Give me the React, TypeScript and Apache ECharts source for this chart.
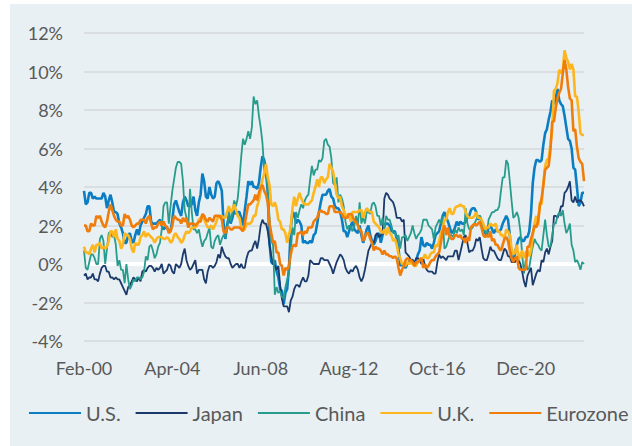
import React, { useEffect, useRef } from "react";
import * as echarts from "echarts";

// Monthly year-over-year CPI inflation (%), Feb-2000 .. Sep-2023
const usValues: number[] = [
  3.8, 3.1, 3.2, 3.7, 3.7, 3.4, 3.5, 3.4, 3.4, 3.4, 3.4,
  3.7, 3.5, 2.9, 3.3, 3.6, 3.2, 2.7, 2.7, 2.6, 2.1, 1.9, 1.6,
  1.1, 1.1, 1.5, 1.6, 1.2, 1.1, 1.5, 1.8, 1.5, 2.0, 2.2, 2.4,
  2.6, 3.0, 3.0, 2.2, 2.1, 2.1, 2.1, 2.2, 2.3, 2.0, 1.8, 1.9,
  1.9, 1.7, 1.7, 2.3, 3.1, 3.3, 3.0, 2.7, 2.5, 3.2, 3.5, 3.3,
  3.0, 3.0, 3.1, 3.5, 2.8, 2.5, 3.2, 3.6, 4.7, 4.3, 3.5, 3.4,
  4.0, 3.6, 3.4, 3.5, 4.2, 4.3, 4.1, 3.8, 2.1, 1.3, 2.0, 2.5,
  2.1, 2.4, 2.8, 2.6, 2.7, 2.7, 2.4, 2.0, 2.8, 3.5, 4.3, 4.1,
  4.3, 4.0, 4.0, 3.9, 4.2, 5.0, 5.6, 5.4, 4.9, 3.7, 1.1, 0.1,
  0.0, 0.2, -0.4, -0.7, -1.3, -1.4, -2.1, -1.5, -1.3, -0.2, 1.8, 2.7,
  2.6, 2.1, 2.3, 2.2, 2.0, 1.1, 1.2, 1.1, 1.1, 1.2, 1.1, 1.5,
  1.6, 2.1, 2.7, 3.2, 3.6, 3.6, 3.6, 3.8, 3.9, 3.5, 3.4, 3.0,
  2.9, 2.9, 2.7, 2.3, 1.7, 1.7, 1.4, 1.7, 2.0, 2.2, 1.8, 1.7,
  1.6, 2.0, 1.5, 1.1, 1.4, 1.8, 2.0, 1.5, 1.2, 1.0, 1.2, 1.5,
  1.6, 1.1, 1.5, 2.0, 2.1, 2.1, 2.0, 1.7, 1.7, 1.7, 1.3, 0.8,
  -0.1, 0.0, -0.1, -0.2, 0.0, 0.1, 0.2, 0.2, 0.0, 0.2, 0.5, 0.7,
  1.4, 1.0, 0.9, 1.1, 1.0, 1.0, 0.8, 1.1, 1.5, 1.6, 1.7, 2.1,
  2.5, 2.7, 2.4, 2.2, 1.9, 1.6, 1.7, 1.9, 2.2, 2.0, 2.2, 2.1,
  2.1, 2.2, 2.4, 2.5, 2.8, 2.9, 2.9, 2.7, 2.3, 2.5, 2.2, 1.9,
  1.6, 1.5, 1.9, 2.0, 1.8, 1.6, 1.8, 1.7, 1.7, 1.8, 2.1, 2.3,
  2.5, 2.3, 1.5, 0.3, 0.1, 0.6, 1.0, 1.3, 1.4, 1.2, 1.2, 1.4,
  1.4, 1.7, 2.6, 4.2, 5.0, 5.4, 5.4, 5.3, 5.4, 6.2, 6.8, 7.0,
  7.5, 7.9, 8.5, 8.3, 8.6, 9.1, 8.5, 8.3, 8.2, 7.7, 7.1, 6.5,
  6.4, 6.0, 5.0, 4.9, 4.0, 3.0, 3.2, 3.7, 3.7,
];

const japanValues: number[] = [
  -0.6, -0.5, -0.8, -0.7, -0.7, -0.5, -0.8, -0.8, -0.9, -0.5, -0.2,
  -0.1, -0.1, -0.4, -0.4, -0.7, -0.7, -0.8, -0.7, -0.8, -0.8, -1.0, -1.2,
  -1.4, -1.6, -1.2, -1.1, -0.9, -0.7, -0.8, -0.9, -0.7, -0.9, -0.4, -0.3,
  -0.4, -0.2, -0.1, -0.1, -0.2, -0.4, -0.2, -0.3, -0.2, 0.0, -0.5, -0.4,
  -0.3, 0.0, -0.1, -0.4, -0.5, 0.0, -0.1, -0.2, 0.0, 0.5, 0.8, 0.2,
  -0.1, -0.3, -0.2, 0.0, 0.2, -0.5, -0.3, -0.3, -0.3, -0.8, -1.0, -0.4,
  -0.1, -0.1, -0.2, -0.1, 0.1, 0.5, 0.3, 0.9, 0.6, 0.4, 0.3, 0.3,
  0.0, -0.2, -0.1, 0.0, 0.0, -0.2, 0.0, -0.2, -0.2, 0.3, 0.6, 0.7,
  0.7, 1.0, 1.2, 0.8, 1.3, 2.0, 2.3, 2.1, 2.1, 1.7, 1.0, 0.4,
  0.0, -0.1, -0.3, -0.1, -1.1, -1.8, -2.2, -2.2, -2.2, -2.5, -1.9, -1.7,
  -1.3, -1.1, -1.1, -1.2, -0.9, -0.7, -0.9, -0.9, -0.6, 0.2, 0.1, 0.0,
  0.0, 0.0, 0.0, 0.3, 0.3, 0.2, 0.2, 0.2, 0.0, -0.2, -0.5, -0.2,
  0.1, 0.3, 0.5, 0.4, 0.2, -0.2, -0.4, -0.5, -0.3, -0.4, -0.2, -0.1,
  -0.3, -0.7, -0.9, -0.7, -0.3, 0.2, 0.7, 0.9, 1.1, 1.1, 1.5, 1.6,
  1.4, 1.5, 1.6, 3.4, 3.7, 3.6, 3.4, 3.3, 3.2, 2.9, 2.4, 2.4,
  2.4, 2.2, 2.3, 0.6, 0.5, 0.4, 0.2, 0.2, 0.0, 0.3, 0.3, 0.2,
  0.0, 0.3, -0.1, -0.3, -0.4, -0.4, -0.4, -0.5, -0.5, 0.1, 0.5, 0.3,
  0.4, 0.3, 0.2, 0.4, 0.4, 0.4, 0.4, 0.7, 0.7, 0.2, 0.6, 1.0,
  1.4, 1.5, 1.1, 0.6, 0.7, 0.7, 0.9, 1.3, 1.2, 1.4, 0.8, 0.3,
  0.2, 0.2, 0.5, 0.9, 0.7, 0.7, 0.5, 0.3, 0.2, 0.2, 0.5, 0.8,
  0.7, 0.4, 0.4, 0.1, 0.1, 0.1, 0.3, 0.2, 0.0, -0.4, -0.9, -1.2,
  -0.6, -0.4, -0.2, -1.1, -0.8, -0.5, -0.3, -0.4, 0.2, 0.1, 0.6, 0.8,
  0.5, 0.9, 1.2, 2.5, 2.5, 2.4, 2.6, 3.0, 3.0, 3.7, 3.8, 4.0,
  4.3, 3.3, 3.2, 3.5, 3.2, 3.3, 3.3, 3.2, 3.0,
];

const chinaValues: number[] = [
  0.7, -0.2, -0.3, 0.1, 0.5, 0.5, 0.3, 0.0, 0.0, 1.3, 1.5,
  1.2, 0.0, 0.8, 1.6, 1.7, 1.4, 1.5, 1.0, -0.1, 0.2, -0.3, -0.3,
  -1.0, 0.0, -0.8, -1.3, -1.1, -0.8, -0.9, -0.7, -0.7, -0.8, -0.7, -0.4,
  0.4, 0.2, 0.9, 1.0, 0.7, 0.3, 0.5, 0.9, 1.1, 1.8, 3.0, 3.2,
  3.2, 2.1, 3.0, 3.8, 4.4, 5.0, 5.3, 5.3, 5.2, 4.3, 2.8, 2.4,
  1.9, 3.9, 2.7, 1.8, 1.8, 1.6, 1.8, 1.3, 0.9, 1.2, 1.3, 1.6,
  1.9, 0.9, 0.8, 1.2, 1.4, 1.5, 1.0, 1.3, 1.5, 1.4, 1.9, 2.8,
  2.2, 2.7, 3.3, 3.0, 3.4, 4.4, 5.6, 6.5, 6.2, 6.5, 6.9, 6.5,
  7.1, 8.7, 8.3, 8.5, 7.7, 7.1, 6.3, 4.9, 4.6, 4.0, 2.4, 1.2,
  1.0, -1.6, -1.2, -1.5, -1.4, -1.7, -1.8, -1.2, -0.8, -0.5, 0.6, 1.9,
  1.5, 2.7, 2.4, 2.8, 3.1, 2.9, 3.3, 3.5, 3.6, 4.4, 5.1, 4.6,
  4.9, 4.9, 5.4, 5.3, 5.5, 6.4, 6.5, 6.2, 6.1, 5.5, 4.2, 4.1,
  4.5, 3.2, 3.6, 3.4, 3.0, 2.2, 1.8, 2.0, 1.9, 1.7, 2.0, 2.5,
  2.0, 3.2, 2.1, 2.4, 2.1, 2.7, 2.7, 2.6, 3.1, 3.2, 3.0, 2.5,
  2.5, 2.0, 2.4, 1.8, 2.5, 2.3, 2.3, 2.0, 1.6, 1.6, 1.4, 1.5,
  0.8, 1.4, 1.4, 1.5, 1.2, 1.4, 1.6, 2.0, 1.6, 1.3, 1.5, 1.6,
  1.8, 2.3, 2.3, 2.3, 2.0, 1.9, 1.8, 1.3, 1.9, 2.1, 2.3, 2.1,
  2.5, 0.8, 0.9, 1.2, 1.5, 1.5, 1.4, 1.8, 1.6, 1.9, 1.7, 1.8,
  1.5, 2.9, 2.1, 1.8, 1.8, 1.9, 2.1, 2.3, 2.5, 2.5, 2.2, 1.9,
  1.7, 1.5, 2.3, 2.5, 2.7, 2.7, 2.8, 2.8, 3.0, 3.8, 4.5, 4.5,
  5.4, 5.2, 4.3, 3.3, 2.4, 2.5, 2.7, 2.4, 1.7, 0.5, -0.5, 0.2,
  -0.3, -0.2, 0.4, 0.9, 1.3, 1.1, 1.0, 0.8, 0.7, 1.5, 2.3, 1.5,
  0.9, 0.9, 1.5, 2.1, 2.1, 2.5, 2.7, 2.5, 2.8, 2.1, 1.6, 1.8,
  2.1, 1.0, 0.7, 0.1, 0.2, 0.0, -0.3, 0.1, 0.0,
];

const ukValues: number[] = [
  0.9, 0.6, 0.6, 0.5, 0.8, 1.0, 0.6, 1.0, 1.0, 1.1, 0.8,
  0.9, 0.8, 0.9, 1.2, 1.7, 1.7, 1.4, 1.8, 1.3, 1.2, 0.8, 1.0,
  1.6, 1.5, 1.5, 1.3, 0.8, 0.6, 1.1, 1.0, 1.0, 1.4, 1.5, 1.7,
  1.4, 1.6, 1.5, 1.4, 1.3, 1.1, 1.3, 1.4, 1.4, 1.4, 1.3, 1.3,
  1.4, 1.3, 1.1, 1.2, 1.5, 1.6, 1.4, 1.3, 1.1, 1.2, 1.5, 1.7,
  1.6, 1.7, 1.9, 1.9, 1.9, 2.0, 2.3, 2.4, 2.5, 2.3, 2.1, 1.9,
  1.9, 2.0, 1.8, 2.0, 2.2, 2.5, 2.4, 2.5, 2.4, 2.4, 2.7, 3.0,
  2.7, 2.8, 3.1, 2.8, 2.5, 2.4, 1.9, 1.8, 1.8, 2.1, 2.1, 2.1,
  2.2, 2.5, 2.5, 3.0, 3.3, 3.8, 4.4, 4.7, 5.2, 4.5, 4.1, 3.1,
  3.0, 3.2, 2.9, 2.3, 2.2, 1.8, 1.8, 1.6, 1.1, 1.5, 1.9, 2.9,
  3.5, 3.0, 3.4, 3.7, 3.4, 3.2, 3.1, 3.1, 3.1, 3.2, 3.3, 3.7,
  4.0, 4.4, 4.0, 4.5, 4.5, 4.2, 4.4, 4.5, 5.2, 5.0, 4.8, 4.2,
  3.6, 3.4, 3.5, 3.0, 2.8, 2.4, 2.6, 2.5, 2.2, 2.7, 2.7, 2.7,
  2.7, 2.8, 2.8, 2.4, 2.7, 2.9, 2.8, 2.7, 2.7, 2.2, 2.1, 2.0,
  1.9, 1.7, 1.6, 1.8, 1.5, 1.9, 1.6, 1.5, 1.2, 1.3, 1.0, 0.5,
  0.3, 0.0, 0.0, -0.1, 0.1, 0.0, 0.1, 0.0, -0.1, -0.1, 0.1, 0.2,
  0.3, 0.3, 0.5, 0.3, 0.3, 0.5, 0.6, 0.6, 1.0, 0.9, 1.2, 1.6,
  1.8, 2.3, 2.3, 2.7, 2.9, 2.6, 2.6, 2.9, 3.0, 3.0, 3.1, 3.0,
  3.0, 2.7, 2.5, 2.4, 2.4, 2.4, 2.5, 2.7, 2.4, 2.4, 2.3, 2.1,
  1.8, 1.9, 1.9, 2.1, 2.0, 2.0, 2.1, 1.7, 1.7, 1.5, 1.5, 1.3,
  1.8, 1.7, 1.5, 0.8, 0.5, 0.6, 1.0, 0.2, 0.5, 0.7, 0.3, 0.6,
  0.7, 0.4, 0.7, 1.5, 2.1, 2.5, 2.0, 3.2, 3.1, 4.2, 5.1, 5.4,
  5.5, 6.2, 7.0, 9.0, 9.1, 9.4, 10.1, 9.9, 10.1, 11.1, 10.7, 10.5,
  10.1, 10.4, 10.1, 8.7, 8.7, 7.9, 6.8, 6.7, 6.7,
];

const euroValues: number[] = [
  2.0, 2.0, 1.7, 1.7, 2.1, 2.0, 2.0, 2.5, 2.4, 2.5, 2.2,
  2.0, 1.9, 2.2, 2.7, 3.1, 2.8, 2.5, 2.3, 2.2, 2.2, 2.0, 2.0,
  2.6, 2.4, 2.5, 2.3, 2.0, 1.9, 2.0, 2.1, 2.1, 2.3, 2.3, 2.3,
  2.1, 2.4, 2.5, 2.1, 1.8, 1.9, 1.9, 2.1, 2.2, 2.0, 2.2, 2.0,
  1.9, 1.6, 1.7, 2.0, 2.5, 2.4, 2.3, 2.3, 2.1, 2.4, 2.2, 2.4,
  1.9, 2.1, 2.1, 2.1, 2.0, 2.1, 2.2, 2.2, 2.6, 2.5, 2.3, 2.2,
  2.4, 2.3, 2.2, 2.5, 2.5, 2.5, 2.5, 2.3, 1.7, 1.6, 1.9, 1.9,
  1.8, 1.8, 1.9, 1.9, 1.9, 1.9, 1.8, 1.7, 2.1, 2.6, 3.1, 3.1,
  3.2, 3.3, 3.6, 3.3, 3.7, 4.0, 4.1, 3.8, 3.6, 3.2, 2.1, 1.6,
  1.1, 1.2, 0.6, 0.6, 0.0, -0.1, -0.6, -0.2, -0.3, -0.1, 0.5, 0.9,
  1.0, 0.9, 1.6, 1.6, 1.7, 1.5, 1.7, 1.6, 1.9, 1.9, 1.9, 2.2,
  2.3, 2.4, 2.7, 2.8, 2.7, 2.7, 2.6, 2.6, 3.0, 3.0, 3.0, 2.7,
  2.7, 2.7, 2.7, 2.6, 2.4, 2.4, 2.4, 2.6, 2.6, 2.5, 2.2, 2.2,
  2.0, 1.8, 1.7, 1.2, 1.4, 1.6, 1.6, 1.3, 1.1, 0.7, 0.9, 0.8,
  0.8, 0.7, 0.5, 0.7, 0.5, 0.5, 0.4, 0.4, 0.3, 0.4, 0.3, -0.2,
  -0.6, -0.3, -0.1, 0.2, 0.3, 0.2, 0.2, 0.1, -0.1, 0.1, 0.1, 0.2,
  0.3, -0.2, 0.0, -0.2, -0.1, 0.1, 0.2, 0.2, 0.4, 0.5, 0.6, 1.1,
  1.7, 2.0, 1.5, 1.9, 1.4, 1.3, 1.3, 1.5, 1.5, 1.4, 1.5, 1.3,
  1.3, 1.1, 1.4, 1.2, 1.9, 2.0, 2.1, 2.0, 2.1, 2.2, 1.9, 1.5,
  1.4, 1.5, 1.4, 1.7, 1.2, 1.3, 1.0, 1.0, 0.8, 0.7, 1.0, 1.3,
  1.4, 1.2, 0.7, 0.3, 0.1, 0.3, 0.4, -0.2, -0.3, -0.3, -0.3, -0.3,
  0.9, 0.9, 1.3, 1.6, 2.0, 1.9, 2.2, 3.0, 3.4, 4.1, 4.9, 5.0,
  5.1, 5.9, 7.4, 7.4, 8.1, 8.6, 8.9, 9.1, 9.9, 10.6, 10.1, 9.2,
  8.6, 8.5, 6.9, 7.0, 6.1, 5.5, 5.3, 5.2, 4.3,
];

const seriesNames: string[] = ["U.S.", "Japan", "China", "U.K.", "Eurozone"];
const monthNames: string[] = ["Jan", "Feb", "Mar", "Apr", "May", "Jun", "Jul", "Aug", "Sep", "Oct", "Nov", "Dec"];
const startYear = 2000;
const startMonthIndex = 1; // Feb
const yTicks = { min: -4, max: 12, interval: 2 };

const categories: string[] = usValues.map((_, i) => {
  const m = startMonthIndex + i;
  const y = startYear + Math.floor(m / 12);
  return `${monthNames[m % 12]}-${String(y % 100).padStart(2, "0")}`;
});

const colors = ["#0b7dc2", "#1b3a6c", "#279c8c", "#fdb61d", "#f07d0a"];
const widths = [2.6, 1.8, 1.8, 2.6, 2.6];
const dataSets = [usValues, japanValues, chinaValues, ukValues, euroValues];

const FONT = "Lato, 'Noto Sans', sans-serif";

export default function App() {
  const ref = useRef<HTMLDivElement>(null);
  useEffect(() => {
    if (!ref.current) return;
    const chart = echarts.init(ref.current, undefined, { renderer: "svg" });
    chart.setOption({
      animation: false,
      backgroundColor: "#e8f0f3",
      textStyle: { fontFamily: FONT },
      grid: { left: 74, right: 48, top: 29, bottom: 105 },
      legend: {
        data: seriesNames,
        orient: "horizontal",
        left: 13,
        top: 394,
        width: 1200,
        itemWidth: 52,
        itemHeight: 14,
        itemGap: 14,
        itemStyle: { opacity: 0 },
        textStyle: { fontSize: 20, color: "#595959", fontFamily: FONT },
      },
      xAxis: {
        type: "category",
        data: categories,
        boundaryGap: false,
        axisLine: { show: false },
        axisTick: { show: false },
        splitLine: { show: false },
        axisLabel: {
          interval: 49,
          color: "#595959",
          fontSize: 18,
          fontFamily: FONT,
          margin: 18,
        },
      },
      yAxis: {
        type: "value",
        min: yTicks.min,
        max: yTicks.max,
        interval: yTicks.interval,
        axisLine: { show: false },
        axisTick: { show: false },
        axisLabel: {
          formatter: "{value}%",
          color: "#595959",
          fontSize: 18,
          fontFamily: FONT,
          margin: 21,
        },
        splitLine: { lineStyle: { color: "#d6d9db", width: 1.5 } },
      },
      series: seriesNames.map((name, i) => ({
        name,
        type: "line",
        data: dataSets[i],
        symbol: "none",
        color: colors[i],
        lineStyle: { width: widths[i], color: colors[i] },
        ...(i === 0
          ? {
              markArea: {
                silent: true,
                itemStyle: { color: "#ffffff" },
                data: [[{ yAxis: -0.1 }, { yAxis: 0.1 }]],
              },
            }
          : {}),
      })),
    });
    return () => chart.dispose();
  }, []);
  return (
    <div style={{ position: "fixed", left: 0, top: 0, width: 632, height: 446, background: "#ffffff" }}>
      <div ref={ref} style={{ position: "absolute", left: 10, top: 4, width: 622, height: 442 }} />
    </div>
  );
}
